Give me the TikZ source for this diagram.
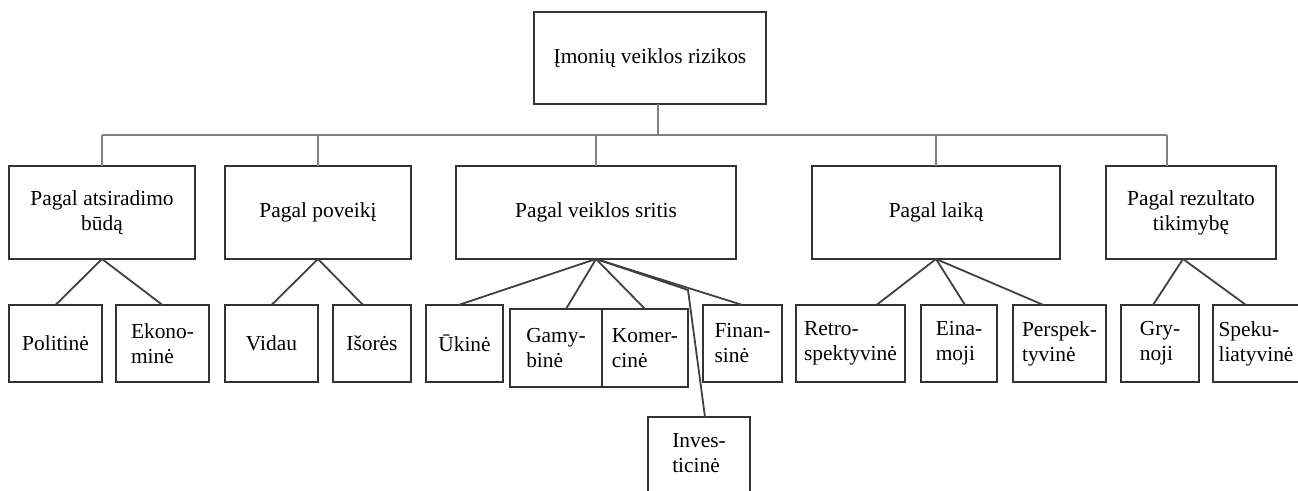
\documentclass[tikz,border=0pt]{standalone}
\usepackage{fontspec}
\setmainfont{Liberation Serif}
\usepackage{tikz}
\usetikzlibrary{positioning}

\begin{document}
\begin{tikzpicture}[x=0.5pt, y=-0.5pt, line width=0.9pt, every node/.style={font=\fontsize{10.7}{12.5}\selectfont}, grp/.style={draw=black!80, minimum height=46.5pt, align=center, inner sep=2pt, outer sep=0pt}, leaf/.style={draw=black!80, minimum height=38.5pt, align=left, inner sep=2pt, outer sep=0pt, anchor=north west}, busline/.style={draw=black!50}, branch/.style={draw=black!75}]
\useasboundingbox (0,0) rectangle (1298,491);
\node[grp, minimum width=116pt, minimum height=46pt] (top) at (650,58) {Įmonių veiklos rizikos};
\node[grp, minimum width=93pt, anchor=north west] (b1) at (9,166) {Pagal atsiradimo\\būdą};
\node[grp, minimum width=93pt, right=15pt of b1] (b2) {Pagal poveikį};
\node[grp, minimum width=140pt, right=22.5pt of b2] (b3) {Pagal veiklos sritis};
\node[grp, minimum width=124pt, right=38pt of b3] (b4) {Pagal laiką};
\node[grp, minimum width=85pt, right=23pt of b4] (b5) {Pagal rezultato\\tikimybę};
% leaves
\node[leaf, minimum width=46.5pt] (pol) at (9,305) {Politinė};
\node[leaf, minimum width=46.5pt] (eko) at (116,305) {Ekono-\\minė};
\node[leaf, minimum width=46.5pt] (vid) at (225,305) {Vidau};
\node[leaf, minimum width=39pt] (isor) at (333,305) {Išorės};
\node[leaf, minimum width=38.5pt] (uk) at (426,305) {Ūkinė};
\node[leaf, minimum width=46pt, minimum height=39pt] (gam) at (510,309) {Gamy-\\binė};
\node[leaf, minimum width=43pt, minimum height=39pt] (kom) at (602,309) {Komer-\\cinė};
\node[leaf, minimum width=39.5pt] (fin) at (703,305) {Finan-\\sinė};
\node[leaf, minimum width=51pt, minimum height=44pt] (inv) at (648,417) {Inves-\\ticinė\\[-4pt]\mbox{}};
\node[leaf, minimum width=54.5pt] (retro) at (796,305) {Retro-\\spektyvinė};
\node[leaf, minimum width=38pt] (eina) at (921,305) {Eina-\\moji};
\node[leaf, minimum width=46.5pt] (persp) at (1013,305) {Perspek-\\tyvinė};
\node[leaf, minimum width=39pt] (gry) at (1121,305) {Gry-\\noji};
\node[leaf, minimum width=43pt] (spek) at (1213,305) {Speku-\\liatyvinė};
\coordinate (bus) at (0,135);
\coordinate (bend) at (688,290);
\draw[busline] ([xshift=4pt]top.south) -- ([xshift=4pt]top.south |- bus);
\draw[busline] (b1.north |- bus) -- ([xshift=-12pt]b5.north |- bus);
\foreach \g in {b1,b2,b3,b4} \draw[busline] (\g.north) -- (\g.north |- bus);
\draw[busline] ([xshift=-12pt]b5.north) -- ([xshift=-12pt]b5.north |- bus);
\draw[branch] (b1.south) -- (pol.north); \draw[branch] (b1.south) -- (eko.north);
\draw[branch] (b2.south) -- (vid.north); \draw[branch] (b2.south) -- ([xshift=-4.5pt]isor.north);
\draw[branch] (b3.south) -- ([xshift=-3pt]uk.north); \draw[branch] (b3.south) -- ([xshift=5pt]gam.north);
\draw[branch] (b3.south) -- (kom.north); \draw[branch] (b3.south) -- (fin.north);
\draw[branch] (b3.south) -- (bend) -- ([xshift=3pt]inv.north);
\draw[branch] (b4.south) -- ([xshift=13pt]retro.north); \draw[branch] (b4.south) -- ([xshift=3pt]eina.north);
\draw[branch] (b4.south) -- ([xshift=-8pt]persp.north);
\draw[branch] ([xshift=-4pt]b5.south) -- ([xshift=-3.5pt]gry.north); \draw[branch] ([xshift=-4pt]b5.south) -- ([xshift=-5pt]spek.north);
\end{tikzpicture}
\end{document}
